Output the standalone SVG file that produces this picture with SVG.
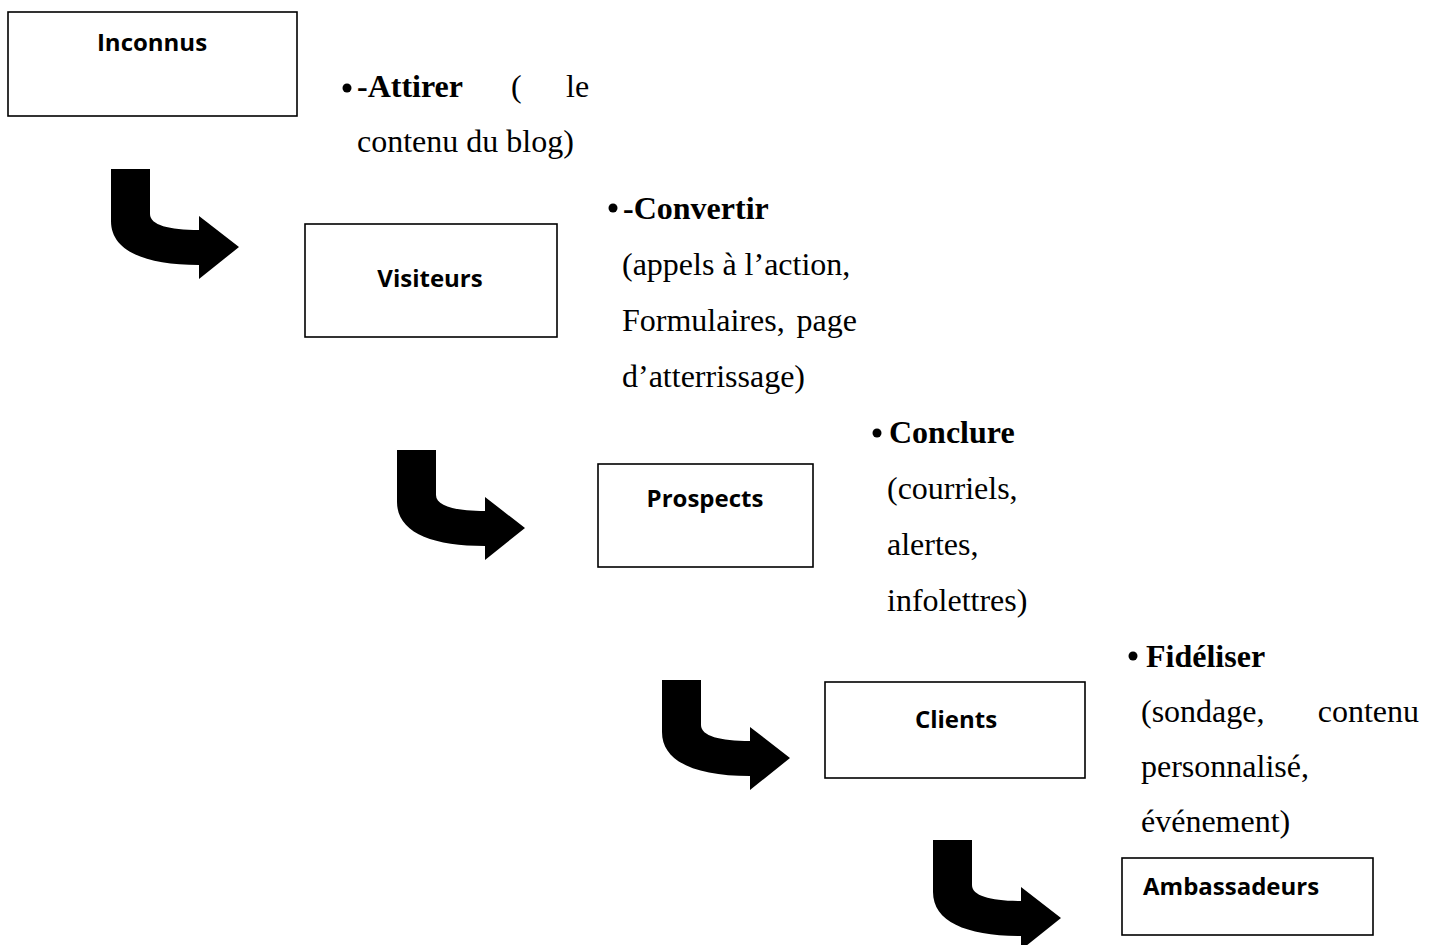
<svg xmlns="http://www.w3.org/2000/svg" width="1438" height="945" viewBox="0 0 1438 945">
<style>
.box{fill:#fff;stroke:#000;stroke-width:1.6}
.lbl{font-family:"Open Sans","Liberation Sans",sans-serif;font-weight:700;font-size:24px;fill:#000}
.t{font-family:"Liberation Serif","Times New Roman",serif;font-size:32px;fill:#000}
.b{font-weight:700}
.arr{fill:#000}
</style>
<defs>
<path id="bent" d="M0,0 H39 V45 C39,56 58,61 88,61 V47 L128,78 L88,110 V96 C34,96 0,82 0,52 Z"/>
</defs>
<rect width="1438" height="945" fill="#fff"/>
<g id="connectors">
<use href="#bent" class="arr" x="111" y="169"/>
<use href="#bent" class="arr" x="397" y="450"/>
<use href="#bent" class="arr" x="662" y="680"/>
<use href="#bent" class="arr" x="933" y="840"/>
</g>
<g id="inconnus">
<rect class="box" x="8" y="12" width="289" height="104"/>
<text class="lbl" x="152" y="51" text-anchor="middle">Inconnus</text>
</g>
<g id="visiteurs">
<rect class="box" x="305" y="224" width="252" height="113"/>
<text class="lbl" x="430" y="287" text-anchor="middle">Visiteurs</text>
</g>
<g id="prospects">
<rect class="box" x="598" y="464" width="215" height="103"/>
<text class="lbl" x="705" y="507" text-anchor="middle">Prospects</text>
</g>
<g id="clients">
<rect class="box" x="825" y="682" width="260" height="96"/>
<text class="lbl" x="956" y="728" text-anchor="middle">Clients</text>
</g>
<g id="ambassadeurs">
<rect class="box" x="1122" y="858" width="251" height="77"/>
<text class="lbl" x="1143" y="895">Ambassadeurs</text>
</g>
<g id="attirer">
<circle cx="347" cy="88" r="4.5"/>
<text class="t" y="97"><tspan x="357" class="b">-Attirer</tspan><tspan x="511">(</tspan><tspan x="566">le</tspan></text>
<text class="t" x="357" y="152">contenu du blog)</text>
</g>
<g id="convertir">
<circle cx="613" cy="208" r="4.5"/>
<text class="t b" x="623" y="219">-Convertir</text>
<text class="t" x="622" y="275">(appels à l’action,</text>
<text class="t" x="622" y="331">Formulaires,</text>
<text class="t" x="857" y="331" text-anchor="end">page</text>
<text class="t" x="622" y="387">d’atterrissage)</text>
</g>
<g id="conclure">
<circle cx="877" cy="433" r="4.5"/>
<text class="t b" x="889" y="443">Conclure</text>
<text class="t" x="887" y="499">(courriels,</text>
<text class="t" x="887" y="555">alertes,</text>
<text class="t" x="887" y="611">infolettres)</text>
</g>
<g id="fideliser">
<circle cx="1133" cy="656" r="4.5"/>
<text class="t b" x="1146" y="667">Fidéliser</text>
<text class="t" x="1141" y="722">(sondage,</text>
<text class="t" x="1419" y="722" text-anchor="end">contenu</text>
<text class="t" x="1141" y="777">personnalisé,</text>
<text class="t" x="1141" y="832">événement)</text>
</g>
</svg>
